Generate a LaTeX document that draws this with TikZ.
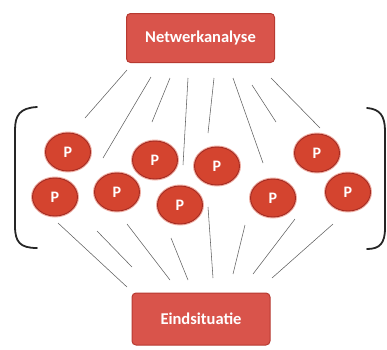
\documentclass[tikz,border=0pt]{standalone}
\usepackage{fontspec}
\setmainfont{Carlito}
\usetikzlibrary{shapes.geometric}
\definecolor{boxfill}{HTML}{D9544B}
\definecolor{boxline}{HTML}{B73A31}
\definecolor{pfill}{HTML}{D4442F}
\definecolor{pline}{HTML}{A32B22}
\definecolor{phalo}{HTML}{F0B0A5}
\definecolor{linegray}{HTML}{606060}
\begin{document}
\begin{tikzpicture}[x=1pt,y=-1pt,
  titlebox/.style={draw=boxline,line width=1pt,fill=boxfill,rounded corners=4pt,
    text=white,font=\bfseries\fontsize{16.5}{18}\selectfont,inner sep=0pt},
  pnode/.style={ellipse,draw=pline,line width=0.9pt,fill=pfill,minimum width=45pt,minimum height=38pt,
    inner sep=0pt,text=white,font=\bfseries\fontsize{16}{18}\selectfont,
    preaction={draw=phalo,line width=3pt}},
  thinline/.style={draw=linegray,line width=0.55pt},
  bracket/.style={draw=black!85,line width=1.8pt,line cap=round}]
\useasboundingbox (0,0) rectangle (387,349);
\node[titlebox,minimum width=148pt,minimum height=49pt] (top) at (200.5,38) {Netwerkanalyse};
\node[titlebox,minimum width=138pt,minimum height=52pt] (bot) at (201,319) {Eindsituatie};
\node[pnode] (p1) at (68,152) {P};
\node[pnode] (p2) at (55,197) {P};
\node[pnode] (p3) at (117,192) {P};
\node[pnode] (p4) at (155,160) {P};
\node[pnode] (p5) at (180,205) {P};
\node[pnode] (p6) at (217,166) {P};
\node[pnode] (p7) at (273,198) {P};
\node[pnode] (p8) at (317,153) {P};
\node[pnode] (p9) at (348,192) {P};
% free-standing lines above and below the P circles
\foreach \xa/\ya/\xb/\yb in {127/70/85/118, 151/77/103/158, 170/78/152/122, 188/78/183/165,
                   214/78/208/133, 233/78/263/163, 252/85/276/122, 271/78/320/128,
                   58/223/127/287, 97/231/132/267, 127/224/170/280, 171/238/188/280,
                   208/207/213/278, 245/225/233/274, 295/219/253/274, 333/224/272/278}{
  \draw[thinline] (\xa,\ya) -- (\xb,\yb);
}
% brackets
\draw[bracket] (37,107) .. controls (20,108) and (15,115) .. (15,130) -- (15,226)
  .. controls (15,242) and (20,248) .. (37,248);
\draw[bracket] (367,108) .. controls (380,109) and (385,116) .. (385,131) -- (385,228)
  .. controls (385,243) and (380,249) .. (367,249);
\end{tikzpicture}
\end{document}
